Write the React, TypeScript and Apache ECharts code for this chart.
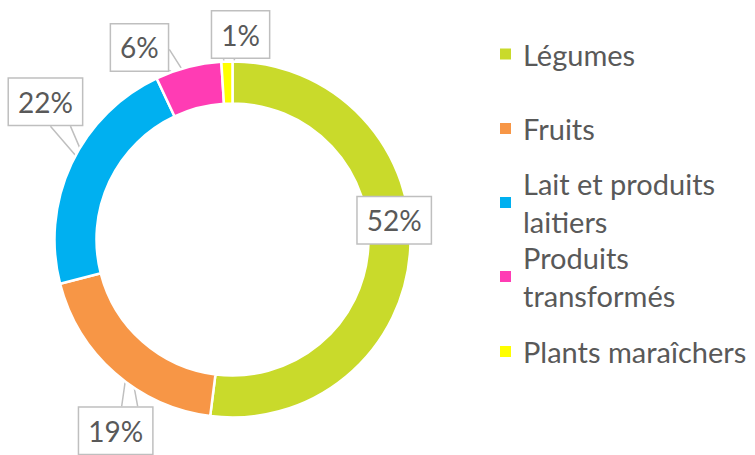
import React, { useEffect, useRef } from "react";
import * as echarts from "echarts";

const categories = [
  "Légumes",
  "Fruits",
  "Lait et produits laitiers",
  "Produits transformés",
  "Plants maraîchers",
];
const legendLines = [
  ["Légumes"],
  ["Fruits"],
  ["Lait et produits", "laitiers"],
  ["Produits", "transformés"],
  ["Plants maraîchers"],
];
const values = [52, 19, 22, 6, 1];
const colors = ["#C9DA2B", "#F79646", "#00B0F0", "#FF3CB4", "#FFFF00"];

const FONT = "Lato, 'Open Sans', sans-serif";
const TEXT = "#595959";
const CX = 232.5;
const CY = 239.5;
const R_IN = 136;
const R_OUT = 178;

// label box placement relative to pointer tip: [dx, dy, side, a, b]
const labelPlacement: [number, number, string, number, number][] = [
  [5, -29, "bottom", -12, 0],
  [-13, 73.5, "top", 6, 22],
  [-45, -71, "bottom", 5, 25],
  [-54, -40, "right", 2, 23],
  [13, -48, "bottom", -17, -6],
];
const legendIconY = [54, 128.5, 202.5, 276.5, 351.5];

export default function App() {
  const ref = useRef<HTMLDivElement>(null);
  useEffect(() => {
    if (!ref.current) return;
    const chart = echarts.init(ref.current, null, { renderer: "svg" });
    const total = values.reduce((a, b) => a + b, 0);
    const lineH = 37.5;

    const legends = categories.map((name, i) => {
      const multi = legendLines[i].length > 1;
      const top = legendIconY[i] - (multi ? (lineH * 3) / 2 : lineH / 2);
      return {
        show: true,
        left: 498,
        top,
        padding: 0,
        itemWidth: 13,
        itemHeight: 13,
        icon: "rect",
        selectedMode: false,
        data: [name],
        formatter: () => legendLines[i].join("\n"),
        textStyle: {
          fontFamily: FONT,
          fontSize: 29,
          color: TEXT,
          lineHeight: lineH,
          padding: multi ? [lineH, 0, 0, 6] : [0, 0, 0, 6],
        },
      };
    });

    chart.setOption({
      animation: false,
      color: colors,
      legend: legends,
      series: [
        {
          type: "pie",
          center: [CX, CY],
          radius: [R_IN, R_OUT],
          startAngle: 90,
          clockwise: true,
          avoidLabelOverlap: false,
          itemStyle: { borderColor: "#ffffff", borderWidth: 2.5 },
          label: {
            show: true,
            position: "outside",
            formatter: (p: any) => Math.round(p.percent) + "%",
            fontFamily: FONT,
            fontSize: 28,
            lineHeight: 34,
            color: TEXT,
            backgroundColor: "#ffffff",
            borderColor: "#BFBFBF",
            borderWidth: 1.5,
            padding: [6, 9],
          },
          labelLine: {
            show: true,
            lineStyle: { color: "#BFBFBF", width: 1.5 },
          },
          labelLayout: (params: any) => {
            const i = params.dataIndex;
            let before = 0;
            for (let k = 0; k < i; k++) before += values[k];
            const mid = ((before + values[i] / 2) / total) * Math.PI * 2;
            const rm = (R_IN + R_OUT) / 2;
            const tx = CX + rm * Math.sin(mid);
            const ty = CY - rm * Math.cos(mid);
            const [dx, dy, side, a, b] = labelPlacement[i];
            const bx = tx + dx;
            const by = ty + dy;
            const w = params.labelRect.width;
            const h = params.labelRect.height;
            let p1: number[], p2: number[];
            if (side === "bottom") {
              p1 = [bx + a, by + h / 2];
              p2 = [bx + b, by + h / 2];
            } else if (side === "top") {
              p1 = [bx + a, by - h / 2];
              p2 = [bx + b, by - h / 2];
            } else {
              p1 = [bx + w / 2, by + a];
              p2 = [bx + w / 2, by + b];
            }
            return {
              x: bx,
              y: by,
              align: "center",
              verticalAlign: "middle",
              labelLinePoints: [p1, [tx, ty], p2],
            };
          },
          data: categories.map((name, i) => ({ name, value: values[i] })),
        },
      ],
    });
    return () => chart.dispose();
  }, []);
  return (
    <div
      ref={ref}
      style={{ position: "fixed", left: 0, top: 0, width: 755, height: 455, background: "#fff" }}
    />
  );
}
